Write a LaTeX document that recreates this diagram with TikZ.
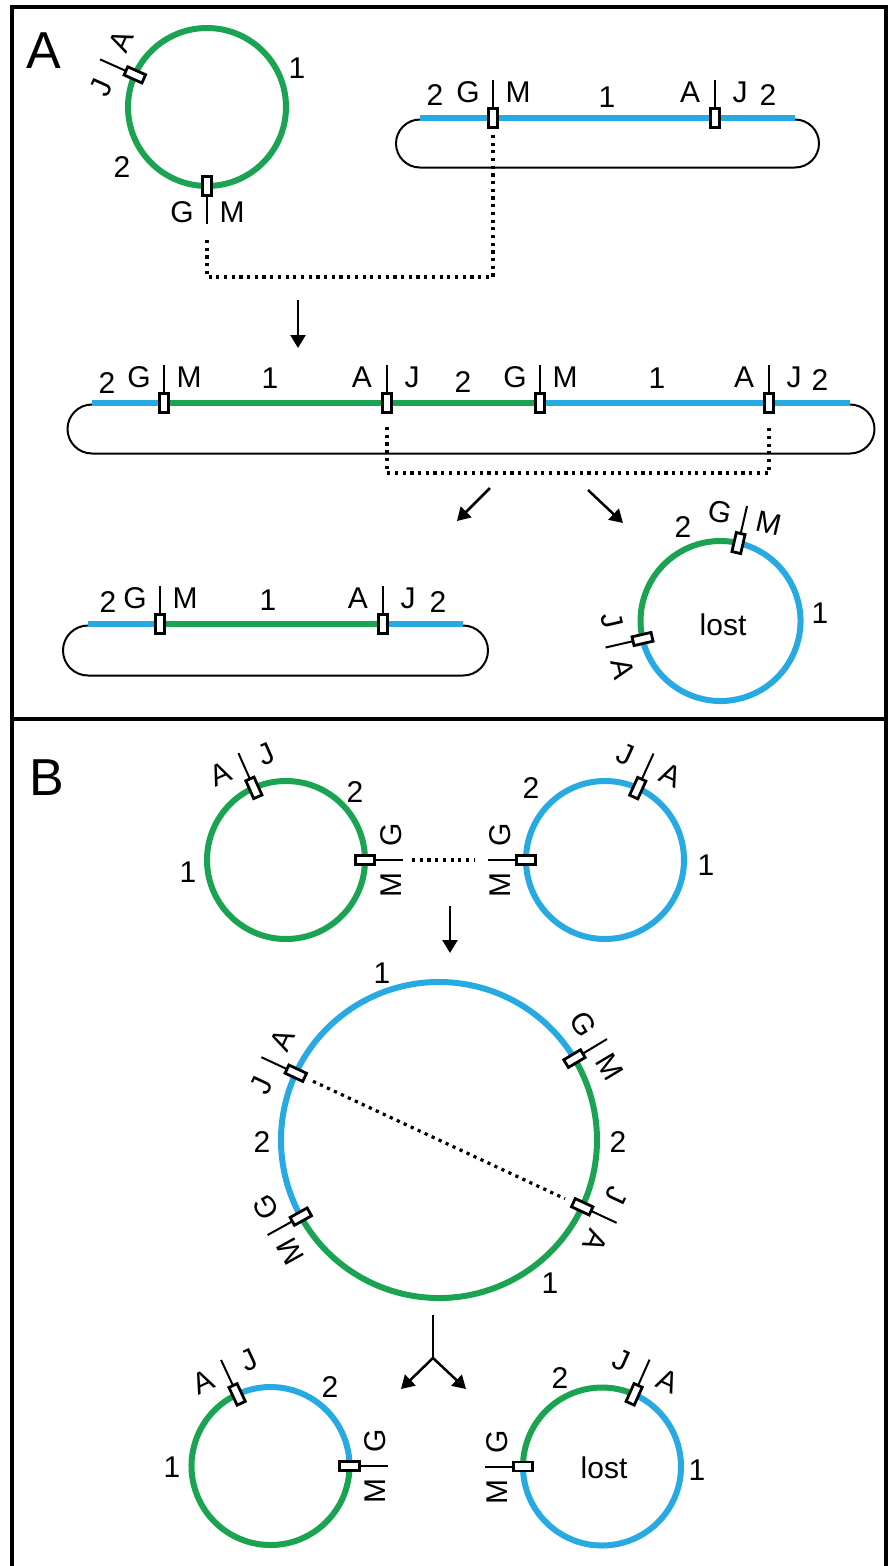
\documentclass[tikz,border=0pt]{standalone}
\usepackage{fontspec}
\setmainfont{Liberation Sans}
\usetikzlibrary{calc,arrows.meta}
\definecolor{chrgreen}{RGB}{26,163,80}
\definecolor{chrblue}{RGB}{39,170,225}
\tikzset{
  frame/.style={line width=3.5pt},
  gseg/.style={line width=6pt, draw=chrgreen},
  bseg/.style={line width=6pt, draw=chrblue},
  loopline/.style={line width=2pt},
  tick/.style={line width=2pt},
  jbox/.style={draw, fill=white, line width=2.8pt, rectangle, minimum width=19.5pt, minimum height=9pt, inner sep=0pt},
  lbl/.style={font=\fontsize{30}{34}\selectfont, inner sep=0pt},
  panel/.style={font=\fontsize{52}{56}\selectfont, inner sep=0pt},
  dotline/.style={line width=3.2pt, dash pattern=on 3.2pt off 4.5pt},
  fwd/.style={line width=2.5pt, -{Triangle[length=13pt,width=15pt]}},
}
% junction marker: name, centre x, centre y (downwards), radius, angle, text angle, first, second
\newcommand\mrk[8]{%
  \begin{scope}[shift={(#2,-#3)}]
    \draw[tick] (#5:#4) -- ($(#5:#4)+(#5:38)$) coordinate (#1-t);
    \node[jbox, rotate=#5] (#1) at (#5:#4) {};
    \node[lbl, rotate=#6] (#1-a) at ($(#5:#4)+(#5:26)+(#6+180:25)$) {#7};
    \node[lbl, rotate=#6] (#1-b) at ($(#5:#4)+(#5:26)+(#6:25)$) {#8};
  \end{scope}}
\begin{document}
\begin{tikzpicture}[x=1pt,y=1pt]
\useasboundingbox (0,0) rectangle (888,-1566);
% frame
\draw[frame] (12,-1566) -- (12,-7) -- (886,-7) -- (886,-1566);
\draw[frame] (12,-719) -- (886,-719);
\node[panel] (pA) at (44,-51) {A};
\node[panel] (pB) at (47,-778) {B};

% ---------------- panel A ----------------
% circular chromosome
\draw[gseg] (207,-107) circle (79);
\node[lbl] (c1n1) at (297,-68) {1};
\node[lbl] (c1n2) at (122,-167) {2};
\mrk{c1a}{207}{107}{79}{156}{66}{J}{A}
\mrk{c1b}{207}{107}{79}{270}{0}{G}{M}

% linear chromosome (top)
\draw[loopline] (420,-119.5) arc[start angle=90,end angle=270,radius=24] -- (795,-167.5) arc[start angle=-90,end angle=90,radius=24];
\draw[bseg] (420,-118) -- (795,-118);
\node[lbl] (l1n2a) at (435,-95) {2};
\node[lbl] (l1n1) at (607,-97) {1};
\node[lbl] (l1n2b) at (768,-95) {2};
\mrk{l1gm}{493}{118}{0}{90}{0}{G}{M}
\mrk{l1aj}{715}{118}{0}{90}{0}{A}{J}

\draw[dotline] ($(c1b)+(0,-54)$) |- ($(l1gm)+(0,-159)$) -- ($(l1gm)+(0,-14)$);

\coordinate (a1s) at (298,-300);
\coordinate (a1e) at (298,-348);
\draw[fwd] (a1s) -- (a1e);

% integrated chromosome
\draw[loopline] (92,-404.5) arc[start angle=90,end angle=270,radius=24.5] -- (850,-453.5) arc[start angle=-90,end angle=90,radius=24.5];
\draw[bseg] (92,-403) -- (164,-403);
\draw[gseg] (164,-403) -- (540,-403);
\draw[bseg] (540,-403) -- (850,-403);
\node[lbl] (l2n2a) at (107,-383) {2};
\node[lbl] (l2n1a) at (270,-378) {1};
\node[lbl] (l2n2b) at (463,-382) {2};
\node[lbl] (l2n1b) at (657,-378) {1};
\node[lbl] (l2n2c) at (820,-380) {2};
\mrk{l2gm1}{164}{403}{0}{90}{0}{G}{M}
\mrk{l2aj1}{387}{403}{0}{90}{0}{A}{J}
\mrk{l2gm2}{540}{403}{0}{90}{0}{G}{M}
\mrk{l2aj2}{769}{403}{0}{90}{0}{A}{J}

\draw[dotline] ($(l2aj1)+(0,-24)$) |- ($(l2aj2)+(0,-70)$) -- ($(l2aj2)+(0,-25)$);

\coordinate (a2s) at (490,-488);
\coordinate (a2e) at (457,-521);
\draw[fwd] (a2s) -- (a2e);
\coordinate (a3s) at (588,-490);
\coordinate (a3e) at (623,-523);
\draw[fwd] (a3s) -- (a3e);

% excised products
\draw[loopline] (88,-625.5) arc[start angle=90,end angle=270,radius=25] -- (463,-675.5) arc[start angle=-90,end angle=90,radius=25];
\draw[bseg] (88,-624) -- (160,-624);
\draw[gseg] (160,-624) -- (383,-624);
\draw[bseg] (383,-624) -- (463,-624);
\node[lbl] (l3n2a) at (108,-602) {2};
\node[lbl] (l3n1) at (268,-600) {1};
\node[lbl] (l3n2b) at (438,-602) {2};
\mrk{l3gm}{160}{624}{0}{90}{0}{G}{M}
\mrk{l3aj}{383}{624}{0}{90}{0}{A}{J}

\draw[gseg] (720.5,-621) ++(77:80) arc[start angle=77,end angle=193,radius=80];
\draw[bseg] (720.5,-621) ++(193:80) arc[start angle=193,end angle=437,radius=80];
\node[lbl] (laN2) at (683,-527) {2};
\node[lbl] (laN1) at (820,-613) {1};
\node[lbl] (laLost) at (723,-625) {lost};
\mrk{la1}{720.5}{621}{80}{77}{-13}{G}{M}
\mrk{la2}{720.5}{621}{80}{193}{-77}{J}{A}

% ---------------- panel B ----------------
\draw[gseg] (286,-860) circle (79);
\node[lbl] (b1n2) at (355,-792) {2};
\node[lbl] (b1n1) at (188,-872) {1};
\mrk{b1a}{286}{860}{79}{114}{24}{A}{J}
\mrk{b1b}{286}{860}{79}{0}{90}{M}{G}

\draw[bseg] (605,-860) circle (79);
\node[lbl] (b2n2) at (531,-788) {2};
\node[lbl] (b2n1) at (706,-865) {1};
\mrk{b2a}{605}{860}{79}{180}{90}{M}{G}
\mrk{b2b}{605}{860}{79}{65.5}{-24.5}{J}{A}

\draw[dotline] ($(b1b-t)+(9,0)$) -- ($(b2a-t)+(-13,0)$);

\coordinate (a4s) at (450,-906);
\coordinate (a4e) at (450,-953);
\draw[fwd] (a4s) -- (a4e);

% cointegrate
\draw[bseg] (439,-1140) ++(31:158) arc[start angle=31,end angle=209,radius=158];
\draw[gseg] (439,-1140) ++(209:158) arc[start angle=209,end angle=391,radius=158];
\node[lbl] (bcn1a) at (382,-973) {1};
\node[lbl] (bcn2a) at (262,-1142) {2};
\node[lbl] (bcn2b) at (618,-1142) {2};
\node[lbl] (bcn1b) at (550,-1283) {1};
\mrk{bc1}{439}{1140}{158}{155}{65}{J}{A}
\mrk{bc2}{439}{1140}{158}{31}{-59}{G}{M}
\mrk{bc3}{439}{1140}{158}{-25}{-115}{J}{A}
\mrk{bc4}{439}{1140}{158}{209}{119}{M}{G}

\draw[dotline, shorten <=19pt, shorten >=19pt] (bc1.center) -- (bc3.center);

\coordinate (ys) at (433,-1315);
\coordinate (yj) at (433,-1358);
\coordinate (yl) at (401,-1389);
\coordinate (yr) at (466,-1389);
\draw[line width=2.5pt] (ys) -- (yj);
\draw[fwd] (yj) -- (yl);
\draw[fwd] (yj) -- (yr);

% resolution products
\draw[gseg] (270.5,-1466) ++(115:79) arc[start angle=115,end angle=360,radius=79];
\draw[bseg] (270.5,-1466) ++(0:79) arc[start angle=0,end angle=115,radius=79];
\node[lbl] (b3n2) at (330,-1387) {2};
\node[lbl] (b3n1) at (172,-1467) {1};
\mrk{b3a}{270.5}{1466}{79}{115}{25}{A}{J}
\mrk{b3b}{270.5}{1466}{79}{0}{90}{M}{G}

\draw[gseg] (602,-1466.5) ++(66:79) arc[start angle=66,end angle=180,radius=79];
\draw[bseg] (602,-1466.5) ++(180:79) arc[start angle=180,end angle=426,radius=79];
\node[lbl] (b4n2) at (560,-1378) {2};
\node[lbl] (b4n1) at (697,-1470) {1};
\node[lbl] (b4Lost) at (604,-1468) {lost};
\mrk{b4a}{602}{1466.5}{79}{180}{90}{M}{G}
\mrk{b4b}{602}{1466.5}{79}{66}{-24}{J}{A}
\end{tikzpicture}
\end{document}
